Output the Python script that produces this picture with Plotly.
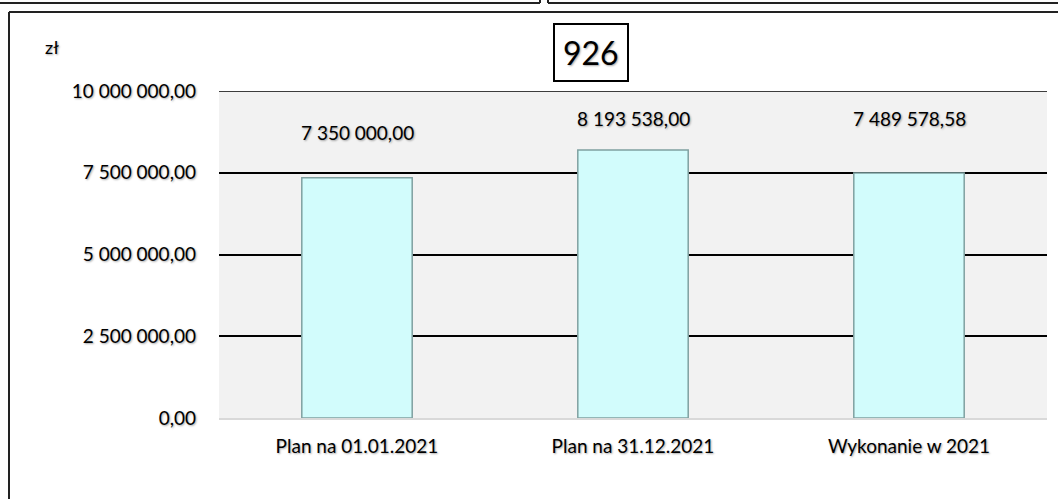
import plotly.graph_objects as go

categories = ["Plan na 01.01.2021", "Plan na 31.12.2021", "Wykonanie w 2021"]
values = [7350000.00, 8193538.00, 7489578.58]
value_labels = ["7 350 000,00", "8 193 538,00", "7 489 578,58"]
label_shift = [45, 32, 55]
tick_vals = [0, 2500000, 5000000, 7500000, 10000000]
tick_text = ["0,00", "2 500 000,00", "5 000 000,00", "7 500 000,00", "10 000 000,00"]
title_text = "926"
unit_text = "zł"

W, H = 1058, 499
L, R, T, B = 219, 11, 91, 81
pw, ph = W - L - R, H - T - B

def px(x):
    return (x - L) / pw

def py(y):
    return 1 - (y - T) / ph

FONT = "Lato"
shadow = "1px 1px 2px rgba(0,0,0,0.35)"

fig = go.Figure()
fig.add_trace(go.Bar(
    x=categories, y=values, width=0.40,
    marker=dict(color="#d2fcfc", line=dict(color="#7fa0a0", width=1.5)),
    hoverinfo="skip", showlegend=False,
))

for c, v, t, s in zip(categories, values, value_labels, label_shift):
    fig.add_annotation(x=c, y=v, text=t, showarrow=False, yshift=s,
                       font=dict(family=FONT, size=19, color="#000", shadow=shadow))

fig.add_annotation(xref="paper", yref="paper", x=px(590.5), y=py(53), text=title_text,
                   showarrow=False, font=dict(family=FONT, size=32, color="#000", shadow=shadow),
                   bordercolor="#000", borderwidth=2, borderpad=8, bgcolor="white",
                   xanchor="center", yanchor="middle")
fig.add_annotation(xref="paper", yref="paper", x=px(52), y=py(47), text=unit_text,
                   showarrow=False, font=dict(family=FONT, size=18, color="#000", shadow=shadow),
                   xanchor="center", yanchor="middle")

# top gridline (at the axis maximum)
fig.add_shape(type="line", xref="paper", yref="y", x0=0, x1=1,
              y0=tick_vals[-1], y1=tick_vals[-1], line=dict(color="#000", width=1.5))

# frame decorations
dark = dict(color="#222", width=2)
fig.add_shape(type="line", xref="paper", yref="paper", x0=px(0), x1=px(540), y0=py(3), y1=py(3), line=dark)
fig.add_shape(type="line", xref="paper", yref="paper", x0=px(540), x1=px(540), y0=py(0), y1=py(3), line=dark)
fig.add_shape(type="line", xref="paper", yref="paper", x0=px(548), x1=px(1058), y0=py(3), y1=py(3), line=dark)
fig.add_shape(type="line", xref="paper", yref="paper", x0=px(548), x1=px(548), y0=py(0), y1=py(3), line=dark)
fig.add_shape(type="line", xref="paper", yref="paper", x0=px(9), x1=px(1058), y0=py(12), y1=py(12), line=dark)
fig.add_shape(type="line", xref="paper", yref="paper", x0=px(9), x1=px(9), y0=py(12), y1=py(499), line=dark)

fig.update_layout(
    width=W, height=H,
    margin=dict(l=L, r=R, t=T, b=B),
    paper_bgcolor="white", plot_bgcolor="#f2f2f2",
    font=dict(family=FONT, size=19, color="#000"),
    xaxis=dict(showgrid=False, showline=True, linecolor="#d9d9d9", linewidth=2,
               ticks="", ticklabelstandoff=10,
               tickfont=dict(family=FONT, size=19, color="#000", shadow=shadow)),
    yaxis=dict(range=[0, 10000000], tickvals=tick_vals, ticktext=tick_text,
               showgrid=True, gridcolor="#000", gridwidth=1.5, zeroline=False,
               showline=False, ticks="", ticklabelstandoff=22,
               tickfont=dict(family=FONT, size=19, color="#000", shadow=shadow)),
)

fig.write_html(
    "out.html", config={"displayModeBar": False},
    post_script=("document.body.style.margin='0';"
                 "document.body.style.overflow='hidden';"
                 "document.documentElement.style.overflow='hidden';"),
)
